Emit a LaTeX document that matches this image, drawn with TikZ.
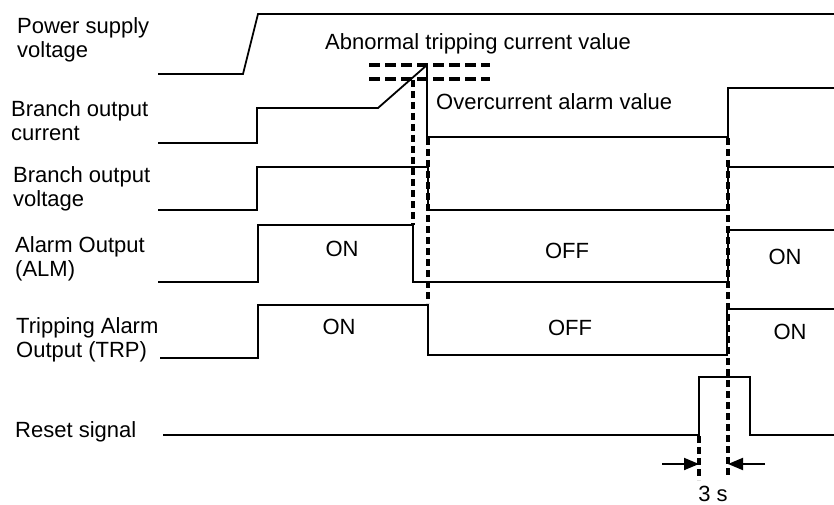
\documentclass[tikz,border=0pt]{standalone}
\usepackage{fontspec}
\setmainfont{Liberation Sans}
\usetikzlibrary{arrows.meta}
\begin{document}
\begin{tikzpicture}[x=1pt,y=-1pt,
  wave/.style={line width=1.8pt, line join=miter},
  vdash/.style={line width=3.2pt, dash pattern=on 7pt off 4pt},
  hdash/.style={line width=3.2pt, dash pattern=on 11pt off 5pt},
  lbl/.style={font=\fontsize{22}{24}\selectfont, align=left, anchor=west, inner sep=0pt},
  txt/.style={font=\fontsize{22}{24}\selectfont, inner sep=0pt},
  dimarrow/.style={line width=1.9pt, -{Triangle[length=15pt,width=12pt]}}]
\useasboundingbox (0,0) rectangle (834,505);
% labels
\node[lbl] (lps) at (17,40) {Power supply\\voltage};
\node[lbl] (lbc) at (11,121) {Branch output\\current};
\node[lbl] (lbv) at (13,189) {Branch output\\voltage};
\node[lbl] (lalm) at (15,259) {Alarm Output\\(ALM)};
\node[lbl] (ltrp) at (16,340) {Tripping Alarm\\Output (TRP)};
\node[lbl] (lrst) at (15,432) {Reset signal};
\node[txt, anchor=west] (tab) at (325,44) {Abnormal tripping current value};
\node[txt, anchor=west] (tov) at (436,102) {Overcurrent alarm value};
\node[txt] (on1) at (342,249) {ON};
\node[txt] (off1) at (567,251) {OFF};
\node[txt] (on2) at (785,257) {ON};
\node[txt] (on3) at (339,327) {ON};
\node[txt] (off2) at (570,328) {OFF};
\node[txt] (on4) at (790,332) {ON};
\node[txt] (t3s) at (713,494) {3 s};
% threshold dashed lines
\draw[hdash] (369,65) -- (490,65);
\draw[hdash] (369,79) -- (490,79);
% power supply voltage
\draw[wave] (158,74) -- (243,74) -- (258,14) -- (834,14);
% branch output current
\draw[wave] (158,143) -- (257,143) -- (257,108) -- (378,108) -- (427,65) -- (427,137) -- (728,137) -- (728,88) -- (834,88);
% branch output voltage
\draw[wave] (158,210) -- (257,210) -- (257,167) -- (428,167) -- (428,210) -- (728,210) -- (728,167) -- (834,167);
% alarm output
\draw[wave] (158,282) -- (258,282) -- (258,225) -- (413,225) -- (413,282) -- (728,282) -- (728,230) -- (834,230);
% tripping alarm output
\draw[wave] (160,358) -- (258,358) -- (258,305) -- (428,305) -- (428,355) -- (727,355) -- (727,309) -- (834,309);
% reset signal
\draw[wave] (163,435) -- (699,435) -- (699,377) -- (750,377) -- (750,435) -- (834,435);
% vertical dashed markers
\draw[vdash] (413,80) -- (413,225);
\draw[vdash] (428,138) -- (428,303);
\draw[vdash] (728,138) -- (728,475);
\draw[vdash] (699,436) -- (699,480);
% 3 s dimension arrows
\coordinate (al) at (662,464);
\coordinate (alt) at (699,464);
\coordinate (ar) at (765,464);
\coordinate (art) at (728,464);
\draw[dimarrow] (al) -- (alt);
\draw[dimarrow] (ar) -- (art);
\end{tikzpicture}
\end{document}
